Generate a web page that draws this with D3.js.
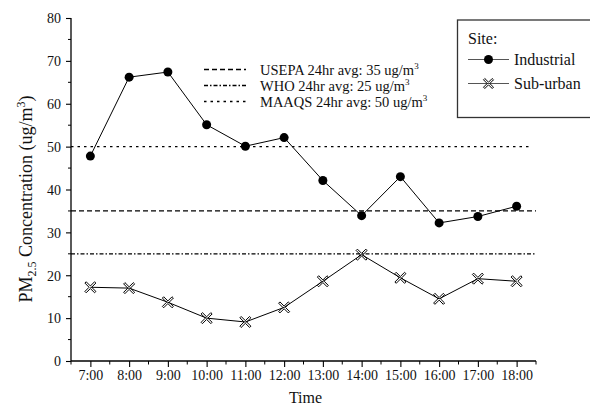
<!DOCTYPE html>
<html>
<head>
<meta charset="utf-8">
<script src="https://cdn.jsdelivr.net/npm/d3@7"></script>
<style>
  body { margin: 0; background: #fff; }
  svg { font-family: "Liberation Serif", "Times New Roman", serif; }
</style>
</head>
<body>
<div id="chart"></div>
<script>

// години та значення PM2.5
var hours = [7, 8, 9, 10, 11, 12, 13, 14, 15, 16, 17, 18];
var industrial = [47.8, 66.2, 67.4, 55.1, 50.1, 52.1, 42.1, 33.9, 43.0, 32.2, 33.7, 36.1];
var suburban = [17.2, 17.0, 13.7, 10.0, 9.1, 12.5, 18.6, 24.8, 19.4, 14.5, 19.2, 18.6];
var yTicks = [0, 10, 20, 30, 40, 50, 60, 70, 80];

// нормативи
var limitNames = ["USEPA 24hr avg: 35 ug/m", "WHO 24hr avg: 25 ug/m", "MAAQS 24hr avg: 50 ug/m"];
var limitValues = [35, 25, 50];
var limitDash = ["5,3", "4,2,1.5,2", "2.5,4"];

var width = 590, height = 410;

var x = d3.scaleLinear().domain([6.5, 18.5]).range([71, 536]);
var y = d3.scaleLinear().domain([0, 80]).range([361, 18]);

var svg = d3.select("#chart").append("svg")
    .attr("width", width)
    .attr("height", height);

// лінії нормативів
svg.selectAll(".limit")
    .data(limitValues)
    .enter()
    .append("line")
    .attr("x1", x(6.5))
    .attr("x2", function(d, i) { return i == 2 ? x(18.35) : x(18.5) })
    .attr("y1", function(d) { return y(d) })
    .attr("y2", function(d) { return y(d) })
    .attr("stroke", "#000")
    .attr("stroke-width", 1.3)
    .attr("stroke-dasharray", function(d, i) { return limitDash[i] });

// осі
var xAxis = d3.axisBottom(x)
    .tickValues(hours)
    .tickSize(6)
    .tickFormat(function(d) { return d + ":00" });

var gx = svg.append("g")
    .attr("transform", "translate(0," + y(0) + ")")
    .call(xAxis);

gx.append("g").selectAll("line")
    .data(d3.range(6.5, 19, 1))
    .enter().append("line")
    .attr("x1", function(d) { return x(d) })
    .attr("x2", function(d) { return x(d) })
    .attr("y1", 0).attr("y2", 3.5)
    .attr("stroke", "#000");

var yAxis = d3.axisLeft(y)
    .tickValues(yTicks)
    .tickSize(5);

var gy = svg.append("g")
    .attr("transform", "translate(" + x(6.5) + ",0)")
    .call(yAxis);

gy.append("g").selectAll("line")
    .data(d3.range(5, 80, 10))
    .enter().append("line")
    .attr("y1", function(d) { return y(d) })
    .attr("y2", function(d) { return y(d) })
    .attr("x1", 0).attr("x2", -3)
    .attr("stroke", "#000");

[gx, gy].forEach(function(g) {
    g.select(".domain").attr("stroke-width", 1.3).attr("d", null);
    g.selectAll(".tick line").attr("stroke-width", 1.1);
    g.selectAll("text")
        .style("font-family", "Liberation Serif, serif")
        .style("font-size", "14px")
        .attr("fill", "#111");
});
gx.select(".domain").attr("d", "M" + x(6.5) + ",0H" + x(18.5));
gy.select(".domain").attr("d", "M0," + y(0) + "V" + y(80));
gx.selectAll(".tick text").attr("dy", "0.72em");
gy.selectAll(".tick text").attr("x", -10).attr("dy", "0.34em");

// лінії серій
var line = d3.line()
    .x(function(d, i) { return x(hours[i]) })
    .y(function(d) { return y(d) });

svg.append("path")
    .datum(industrial)
    .attr("d", line)
    .attr("fill", "none")
    .attr("stroke", "#000")
    .attr("stroke-width", 1);

svg.append("path")
    .datum(suburban)
    .attr("d", line)
    .attr("fill", "none")
    .attr("stroke", "#000")
    .attr("stroke-width", 1);

// порожній хрестик
function crossPath(s) {
    var a = s, t = 1.3;
    return "M" + (-a) + "," + (-a + t) + "L" + (-t) + ",0L" + (-a) + "," + (a - t) +
        "L" + (-a + t) + "," + a + "L0," + t + "L" + (a - t) + "," + a +
        "L" + a + "," + (a - t) + "L" + t + ",0L" + a + "," + (-a + t) +
        "L" + (a - t) + "," + (-a) + "L0," + (-t) + "L" + (-a + t) + "," + (-a) + "Z";
}

svg.selectAll(".ind")
    .data(industrial)
    .enter().append("circle")
    .attr("cx", function(d, i) { return x(hours[i]) })
    .attr("cy", function(d) { return y(d) })
    .attr("r", 4.5)
    .attr("fill", "#000");

svg.selectAll(".sub")
    .data(suburban)
    .enter().append("path")
    .attr("transform", function(d, i) { return "translate(" + x(hours[i]) + "," + y(d) + ")" })
    .attr("d", crossPath(5.5))
    .attr("fill", "none")
    .attr("stroke", "#000")
    .attr("stroke-width", 1);

// підписи нормативів
var ann = svg.append("g");
limitNames.forEach(function(name, i) {
    var yy = 69.5 + i * 16;
    ann.append("line")
        .attr("x1", 204).attr("x2", 246)
        .attr("y1", yy).attr("y2", yy)
        .attr("stroke", "#000")
        .attr("stroke-width", 1.3)
        .attr("stroke-dasharray", limitDash[i]);
    var t = ann.append("text")
        .attr("x", 260)
        .attr("y", yy + 5)
        .style("font-size", "14.5px")
        .attr("fill", "#111");
    t.append("tspan").text(name);
    t.append("tspan").attr("dy", -6).style("font-size", "9px").text("3");
});

// легенда
var lg = svg.append("g");
lg.append("rect")
    .attr("x", 457.5).attr("y", 20)
    .attr("width", 150).attr("height", 97.5)
    .attr("fill", "#fff")
    .attr("stroke", "#333")
    .attr("stroke-width", 1.3);

lg.append("text")
    .attr("x", 468).attr("y", 44)
    .style("font-size", "16px")
    .attr("fill", "#111")
    .text("Site:");

var siteNames = ["Industrial", "Sub-urban"];
siteNames.forEach(function(name, i) {
    var yy = 59.5 + i * 24;
    lg.append("line")
        .attr("x1", 468).attr("x2", 509)
        .attr("y1", yy).attr("y2", yy)
        .attr("stroke", "#555")
        .attr("stroke-width", 1.2);
    if (i == 0) {
        lg.append("circle").attr("cx", 488.5).attr("cy", yy).attr("r", 4.5).attr("fill", "#000");
    } else {
        lg.append("path")
            .attr("transform", "translate(488.5," + yy + ")")
            .attr("d", crossPath(5))
            .attr("fill", "none")
            .attr("stroke", "#000")
            .attr("stroke-width", 1);
    }
    lg.append("text")
        .attr("x", 514).attr("y", yy + 5.5)
        .style("font-size", "16px")
        .attr("fill", "#111")
        .text(name);
});

// назви осей
svg.append("text")
    .attr("x", (x(6.5) + x(18.5)) / 2 + 2)
    .attr("y", 403)
    .attr("text-anchor", "middle")
    .style("font-size", "16px")
    .attr("fill", "#111")
    .text("Time");

var yl = svg.append("text")
    .attr("transform", "translate(32,199) rotate(-90)")
    .attr("text-anchor", "middle")
    .style("font-size", "18px")
    .attr("fill", "#111");
yl.append("tspan").text("PM");
yl.append("tspan").attr("dy", 4).style("font-size", "12px").text("2.5");
yl.append("tspan").attr("dy", -4).text(" Concentration (ug/m");
yl.append("tspan").attr("dy", -7).style("font-size", "12px").text("3");
yl.append("tspan").attr("dy", 7).text(")");

</script>
</body>
</html>
